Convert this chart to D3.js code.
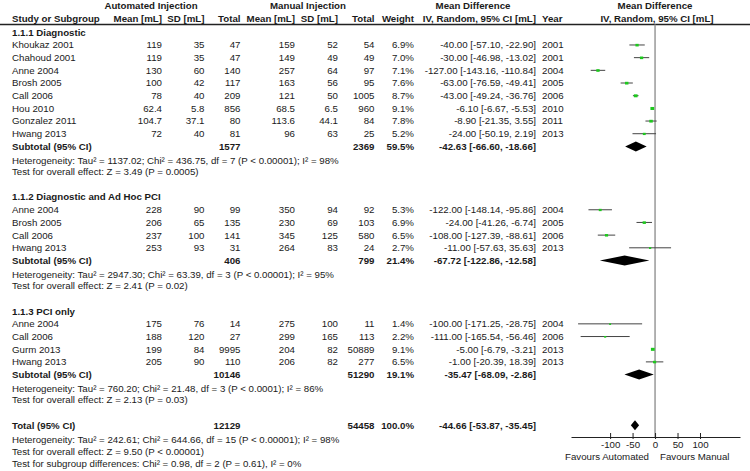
<!DOCTYPE html>
<html>
<head>
<meta charset="utf-8">
<script src="https://cdn.jsdelivr.net/npm/d3@7"></script>
<style>
  body { margin: 0; background: #fff; }
  text { font-family: Arial, "Liberation Sans", sans-serif; font-size: 9.7px; fill: #1a1a1a; }
  .b { font-weight: bold; }
</style>
</head>
<body>
<div id="forest"></div>
<script>
var width = 750
var height = 471

// study rows
var studyNames = ["Khoukaz 2001","Chahoud 2001","Anne 2004","Brosh 2005","Call 2006","Hou 2010","Gonzalez 2011","Hwang 2013",
                  "Anne 2004","Brosh 2005","Call 2006","Hwang 2013",
                  "Anne 2004","Call 2006","Gurm 2013","Hwang 2013"]
var studyGroup = [0,0,0,0,0,0,0,0, 1,1,1,1, 2,2,2,2]
var autoMean = [119,119,130,100,78,62.4,104.7,72, 228,206,237,253, 175,188,199,205]
var autoSD   = [35,35,60,42,40,5.8,37.1,40, 90,65,100,93, 76,120,84,90]
var autoN    = [47,47,140,117,209,856,80,81, 99,135,141,31, 14,27,9995,110]
var manMean  = [159,149,257,163,121,68.5,113.6,96, 350,230,345,264, 275,299,204,206]
var manSD    = [52,49,64,56,50,6.5,44.1,63, 94,69,125,83, 100,165,82,82]
var manN     = [54,49,97,95,1005,960,84,25, 92,103,580,24, 11,113,50889,277]
var weights  = [6.9,7.0,7.1,7.6,8.7,9.1,7.8,5.2, 5.3,6.9,6.5,2.7, 1.4,2.2,9.1,6.5]
var meanDiff = [-40.00,-30.00,-127.00,-63.00,-43.00,-6.10,-8.90,-24.00, -122.00,-24.00,-108.00,-11.00, -100.00,-111.00,-5.00,-1.00]
var ciLow    = [-57.10,-46.98,-143.16,-76.59,-49.24,-6.67,-21.35,-50.19, -148.14,-41.26,-127.39,-57.63, -171.25,-165.54,-6.79,-20.39]
var ciHigh   = [-22.90,-13.02,-110.84,-49.41,-36.76,-5.53,3.55,2.19, -95.86,-6.74,-88.61,35.63, -28.75,-56.46,-3.21,18.39]
var years    = [2001,2001,2004,2005,2006,2010,2011,2013, 2004,2005,2006,2013, 2004,2006,2013,2013]

// subgroups
var groupTitles = ["1.1.1 Diagnostic","1.1.2 Diagnostic and Ad Hoc PCI","1.1.3 PCI only"]
var subAutoN = [1577,406,10146]
var subManN = [2369,799,51290]
var subWeight = [59.5,21.4,19.1]
var subMD = [-42.63,-67.72,-35.47]
var subLow = [-66.60,-122.86,-68.09]
var subHigh = [-18.66,-12.58,-2.86]
var subHet = ["Heterogeneity: Tau\u00b2 = 1137.02; Chi\u00b2 = 436.75, df = 7 (P < 0.00001); I\u00b2 = 98%",
              "Heterogeneity: Tau\u00b2 = 2947.30; Chi\u00b2 = 63.39, df = 3 (P < 0.00001); I\u00b2 = 95%",
              "Heterogeneity: Tau\u00b2 = 760.20; Chi\u00b2 = 21.48, df = 3 (P < 0.0001); I\u00b2 = 86%"]
var subTest = ["Test for overall effect: Z = 3.49 (P = 0.0005)",
               "Test for overall effect: Z = 2.41 (P = 0.02)",
               "Test for overall effect: Z = 2.13 (P = 0.03)"]

// overall
var totalAutoN = 12129
var totalManN = 54458
var totalWeight = 100.0
var totalMD = [-44.66,-53.87,-35.45]
var totalLines = ["Heterogeneity: Tau\u00b2 = 242.61; Chi\u00b2 = 644.66, df = 15 (P < 0.00001); I\u00b2 = 98%",
                  "Test for overall effect: Z = 9.50 (P < 0.00001)",
                  "Test for subgroup differences: Chi\u00b2 = 0.98, df = 2 (P = 0.61), I\u00b2 = 0%"]

var axisTicks = [-100,-50,0,50,100]

var svg = d3.select('#forest').append('svg')
    .attr('width', width)
    .attr('height', height)

var xScale = d3.scaleLinear().domain([-187,189]).range([571,740])
var rowY = d3.scaleLinear().domain([0,34]).range([32.3,463.3])
// plain hyphen instead of unicode minus, like the original
var f2 = function(v) { return v.toFixed(2) }

// column right edges
var col = {name:12, aMean:162, aSD:204.5, aN:240.5, mMean:295, mSD:338, mN:374.5, w:414, ci:536, year:542}

function txt(x, y, s, anchor, bold) {
  return svg.append('text')
    .attr('x', x).attr('y', y).attr('dy', '0.35em')
    .attr('text-anchor', anchor || 'start')
    .classed('b', !!bold)
    .text(s)
}
function ciText(m, lo, hi) {
  return f2(m) + " [" + f2(lo) + ", " + f2(hi) + "]"
}

// headers
txt(151, 6, "Automated Injection", 'middle', true)
txt(308, 6, "Manual Injection", 'middle', true)
txt(473, 6, "Mean Difference", 'middle', true)
txt(655, 6, "Mean Difference", 'middle', true)
txt(col.name, 18.5, "Study or Subgroup", 'start', true)
txt(col.aMean, 18.5, "Mean [mL]", 'end', true)
txt(col.aSD, 18.5, "SD [mL]", 'end', true)
txt(col.aN, 18.5, "Total", 'end', true)
txt(col.mMean, 18.5, "Mean [mL]", 'end', true)
txt(col.mSD, 18.5, "SD [mL]", 'end', true)
txt(col.mN, 18.5, "Total", 'end', true)
txt(col.w, 18.5, "Weight", 'end', true)
txt(col.ci, 18.5, "IV, Random, 95% CI [mL]", 'end', true)
txt(col.year, 18.5, "Year", 'start', true)
txt(657, 18.5, "IV, Random, 95% CI [mL]", 'middle', true)

svg.append('line')
  .attr('x1', 0).attr('x2', width).attr('y1', 24.5).attr('y2', 24.5)
  .attr('stroke', '#222').attr('stroke-width', 1.3)

// zero line
svg.append('line')
  .attr('x1', xScale(0)).attr('x2', xScale(0))
  .attr('y1', 24.5).attr('y2', 437)
  .attr('stroke', '#999').attr('stroke-width', 1.5)

// work out row indices
var groupStart = [0, 13, 22]
var studyRow = []
var counter = {}
studyGroup.forEach(function(g, i) {
  counter[g] = (counter[g] || 0) + 1
  studyRow.push(groupStart[g] + counter[g])
})

function diamond(row, lo, m, hi) {
  var y = rowY(row), h = 5
  var pts = [[xScale(lo), y], [xScale(m), y - h], [xScale(hi), y], [xScale(m), y + h]]
  svg.append('path')
    .attr('d', 'M' + pts.join('L') + 'Z')
    .attr('fill', '#000')
}

groupTitles.forEach(function(t, g) {
  var r0 = groupStart[g]
  txt(col.name, rowY(r0), t, 'start', true)
  var nStudies = studyGroup.filter(function(d){ return d == g }).length
  var rs = r0 + nStudies + 1
  txt(col.name, rowY(rs), "Subtotal (95% CI)", 'start', true)
  txt(col.aN, rowY(rs), subAutoN[g], 'end', true)
  txt(col.mN, rowY(rs), subManN[g], 'end', true)
  txt(col.w, rowY(rs), subWeight[g].toFixed(1) + "%", 'end', true)
  txt(col.ci, rowY(rs), ciText(subMD[g], subLow[g], subHigh[g]), 'end', true)
  txt(col.name, rowY(rs + 1) + 1.2, subHet[g])
  txt(col.name, rowY(rs + 2), subTest[g])
  diamond(rs, subLow[g], subMD[g], subHigh[g])
})

// study rows
studyNames.forEach(function(n, i) {
  var y = rowY(studyRow[i])
  txt(col.name, y, n)
  txt(col.aMean, y, autoMean[i], 'end')
  txt(col.aSD, y, autoSD[i], 'end')
  txt(col.aN, y, autoN[i], 'end')
  txt(col.mMean, y, manMean[i], 'end')
  txt(col.mSD, y, manSD[i], 'end')
  txt(col.mN, y, manN[i], 'end')
  txt(col.w, y, weights[i].toFixed(1) + "%", 'end')
  txt(col.ci, y, ciText(meanDiff[i], ciLow[i], ciHigh[i]), 'end')
  txt(col.year, y, years[i])

  svg.append('line')
    .attr('x1', xScale(ciLow[i])).attr('x2', xScale(ciHigh[i]))
    .attr('y1', y).attr('y2', y)
    .attr('stroke', '#444').attr('stroke-width', 1)
  var s = 1.6 + weights[i] * 0.24
  svg.append('rect')
    .attr('x', xScale(meanDiff[i]) - s / 2).attr('y', y + 0.5 - s / 2)
    .attr('width', s).attr('height', s * 0.8)
    .attr('fill', '#1ec81e')
})

// overall
var tr = 31
txt(col.name, rowY(tr), "Total (95% CI)", 'start', true)
txt(col.aN, rowY(tr), totalAutoN, 'end', true)
txt(col.mN, rowY(tr), totalManN, 'end', true)
txt(col.w, rowY(tr), totalWeight.toFixed(1) + "%", 'end', true)
txt(col.ci, rowY(tr), ciText(totalMD[0], totalMD[1], totalMD[2]), 'end', true)
diamond(tr, totalMD[1], totalMD[0], totalMD[2])
totalLines.forEach(function(t, i) {
  txt(col.name, rowY(tr + 1 + i) + (i == 0 ? 1.2 : 0.5), t)
})

// axis
var xAxis = d3.axisBottom(xScale).tickValues(axisTicks).tickSize(0).tickPadding(4)
  .tickFormat(function(d) { return String(d) })
var ax = svg.append('g')
  .attr('transform', 'translate(0,437)')
  .call(xAxis)
ax.select('.domain').attr('stroke', '#222').attr('stroke-width', 1)
ax.selectAll('.tick text').attr('font-family', null).attr('font-size', null).style('fill', '#1a1a1a')
ax.selectAll('.tick').append('line')
  .attr('y1', -4).attr('y2', 2)
  .attr('stroke', '#222')

txt(649, 457, "Favours Automated", 'end')
txt(660, 457, "Favours Manual", 'start')
</script>
</body>
</html>
